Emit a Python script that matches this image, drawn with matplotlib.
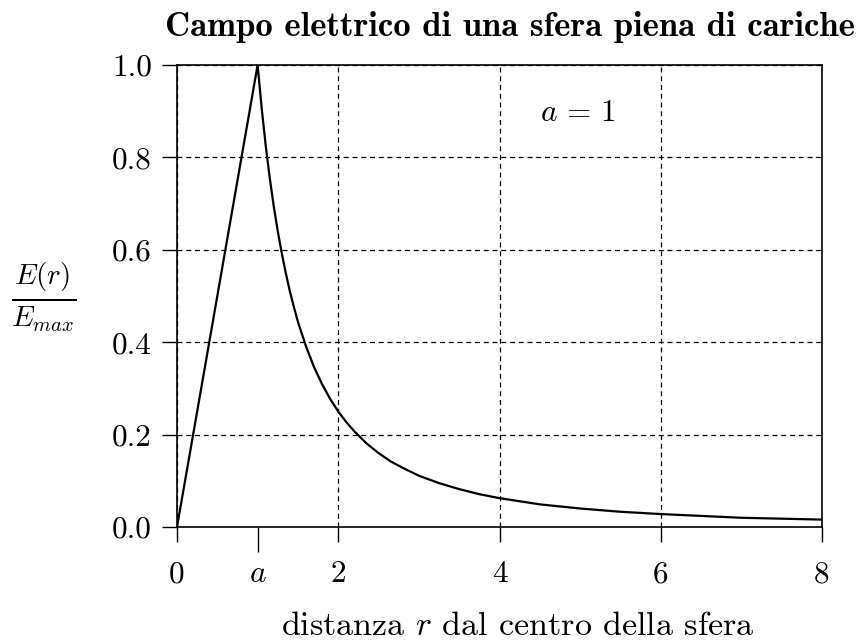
import matplotlib
matplotlib.use("Agg")
import matplotlib.pyplot as plt

# Data
r_values = [0, 1, 1.05, 1.1, 1.15, 1.2, 1.25, 1.3, 1.35, 1.4, 1.45, 1.5, 1.6, 1.7,
            1.8, 1.9, 2.0, 2.1, 2.2, 2.35, 2.5, 2.65, 2.8, 3.0, 3.25, 3.5, 3.75,
            4.0, 4.5, 5.0, 5.5, 6.0, 6.5, 7.0, 7.5, 8.0]
e_values = [0, 1, 0.907, 0.826, 0.756, 0.694, 0.640, 0.592, 0.549, 0.510, 0.476,
            0.444, 0.391, 0.346, 0.309, 0.277, 0.250, 0.227, 0.207, 0.181, 0.160,
            0.142, 0.128, 0.111, 0.095, 0.082, 0.071, 0.0625, 0.049, 0.040, 0.033,
            0.028, 0.024, 0.020, 0.018, 0.016]
x_major_ticks = [0, 2, 4, 6, 8]
x_major_labels = ["0", "2", "4", "6", "8"]
x_minor_ticks = [1]
x_minor_labels = ["$a$"]
y_ticks = [0.0, 0.2, 0.4, 0.6, 0.8, 1.0]
y_labels = ["0.0", "0.2", "0.4", "0.6", "0.8", "1.0"]

plt.rcParams["font.family"] = "serif"
plt.rcParams["font.serif"] = ["cmr10"]
plt.rcParams["mathtext.fontset"] = "cm"
plt.rcParams["axes.formatter.use_mathtext"] = True

W, H = 863, 641
fig = plt.figure(figsize=(W / 100, H / 100), dpi=100)
ax = fig.add_axes([177 / W, 1 - 527 / H, (822 - 177) / W, (527 - 65) / H])

ax.plot(r_values, e_values, color="black", lw=1.6)
ax.set_xlim(0, 8)
ax.set_ylim(0, 1)

ax.set_xticks(x_major_ticks)
ax.set_xticklabels(x_major_labels)
ax.set_xticks(x_minor_ticks, minor=True)
ax.set_xticklabels(x_minor_labels, minor=True)
ax.set_yticks(y_ticks)
ax.set_yticklabels(y_labels)

ax.tick_params(axis="both", which="major", direction="out", length=11, width=1,
               labelsize=22.5, pad=13, color="black")
ax.tick_params(axis="x", which="minor", direction="out", length=18, width=1,
               labelsize=22.5, pad=6)
ax.tick_params(axis="y", which="major", pad=7)

ax.grid(True, which="major", linestyle=(0, (4, 3)), color="black", lw=0.9)
for s in ax.spines.values():
    s.set_linewidth(1.2)

ax.text(4.97, 0.896, r"$a\,=\,1$", fontsize=22.5, ha="center", va="center")

fig.text(510 / W, 1 - 27 / H, "Campo elettrico di una sfera piena di cariche",
         fontsize=25, fontfamily="cmb10", ha="center", va="center")
fig.text(518 / W, 1 - 626 / H, "distanza $r$ dal centro della sfera",
         fontsize=24.5, ha="center", va="center")
fig.text(44 / W, 1 - 297 / H, r"$\frac{E(r)}{E_{max}}$", fontsize=30,
         ha="center", va="center")

fig.savefig("out.png", dpi=100)
